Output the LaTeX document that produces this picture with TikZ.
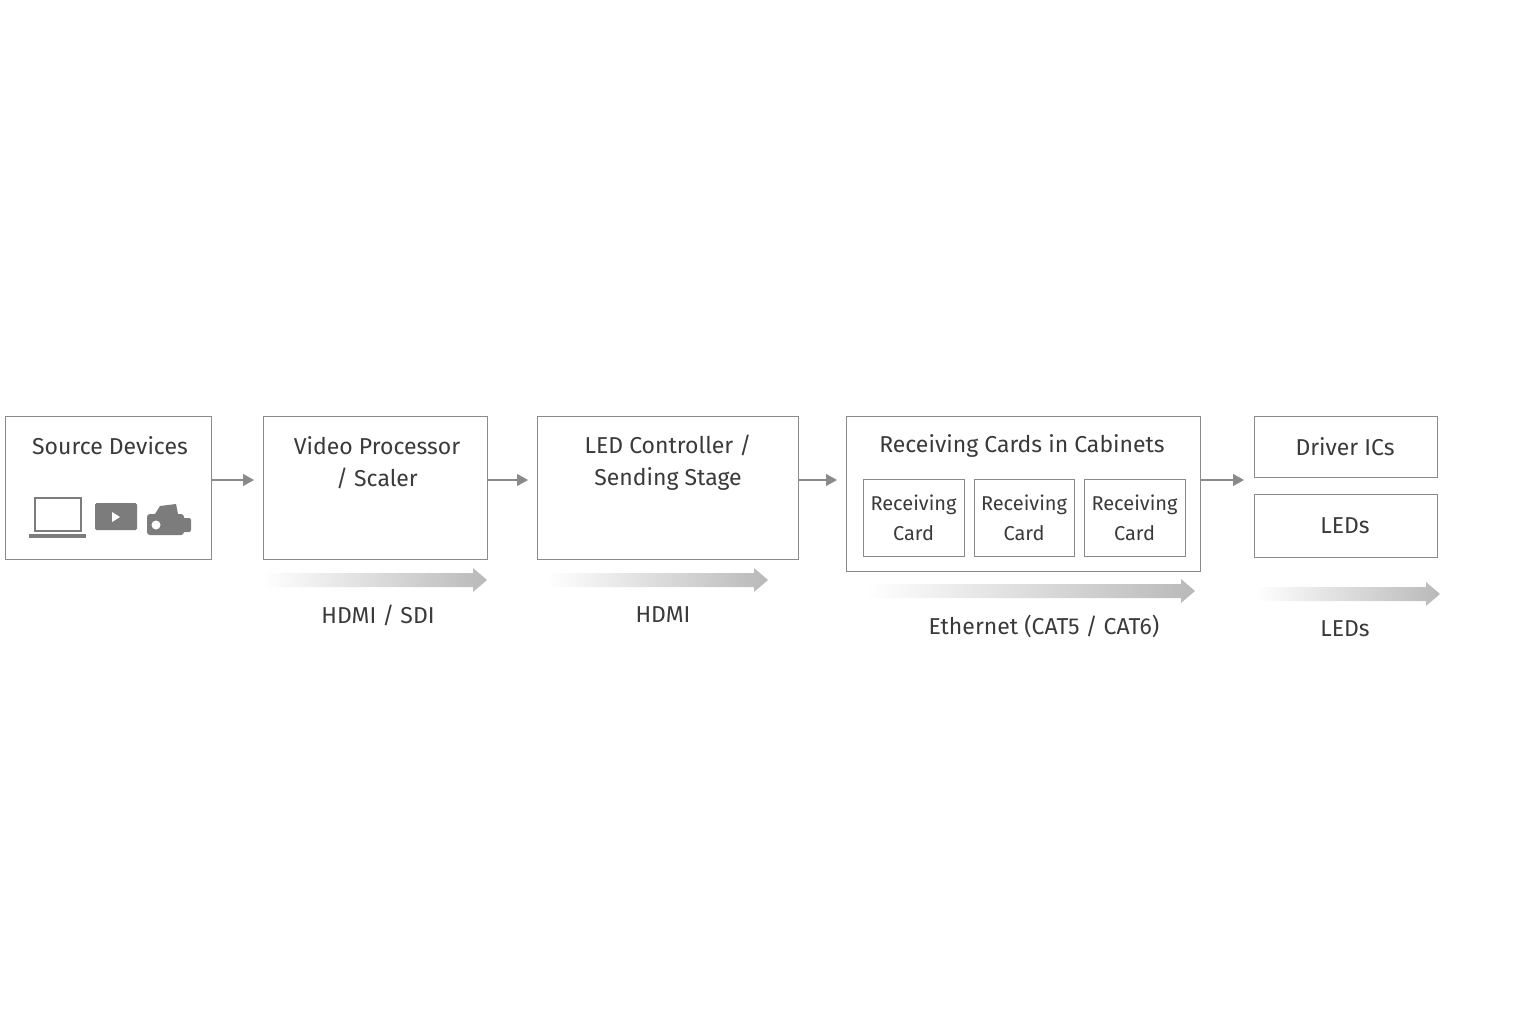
\documentclass[tikz,border=0pt]{standalone}
\usepackage{fontspec}
\setmainfont{Fira Sans}
\usetikzlibrary{arrows.meta}
\definecolor{tx}{HTML}{3A3A3A}
\definecolor{ln}{HTML}{8A8A8A}
\begin{document}
\begin{tikzpicture}[x=1pt,y=-1pt,
  box/.style={draw=ln,line width=1pt,fill=white},
  lbl/.style={text=tx,font=\fontsize{23}{32}\selectfont,align=center},
  sm/.style={text=tx,font=\fontsize{20}{30}\selectfont,align=center},
  conn/.style={draw=ln,line width=1.2pt,-{Triangle[length=11pt,width=12pt]}},
  ico/.style={fill=ln!90!black,draw=none}]
\useasboundingbox (0,0) rectangle (1536,1024);
\newcommand{\garrow}[3]{% x1,x2,y
  \shade[left color=white,right color=gray!55] (#1,#3-7) -- (#2-14,#3-7) -- (#2-14,#3-12) -- (#2,#3) -- (#2-14,#3+12) -- (#2-14,#3+7) -- (#1,#3+7) -- cycle;}
\path[box] (5,416) rectangle (211,559);
\node[lbl] (src) at (110,446) {Source Devices};
\path[box] (263,416) rectangle (487,559);
\node[lbl] (vp) at (377,463) {Video Processor\\/ Scaler};
\path[box] (537,416) rectangle (798,559);
\node[lbl] (lc) at (668,463) {LED Controller /\\Sending Stage};
\path[box] (846,416) rectangle (1200,571);
\node[lbl] (rc) at (1022,446) {Receiving Cards in Cabinets};
\foreach \a/\b/\n in {863/964/c1,974/1074/c2,1084/1185/c3}{
  \path[box] (\a,479) rectangle (\b,556);
  \node[sm] (\n) at ({(\a+\b)/2},518) {Receiving\\Card};}
\path[box] (1254,416) rectangle (1437,477);
\node[lbl] (dr) at (1345,447) {Driver ICs};
\path[box] (1254,494) rectangle (1437,557);
\node[lbl] (le) at (1345,526) {LEDs};
\coordinate (a1) at (211,480); \coordinate (b1) at (254,480);
\coordinate (a2) at (487,480); \coordinate (b2) at (528,480);
\coordinate (a3) at (798,480); \coordinate (b3) at (837,480);
\coordinate (a4) at (1200,480); \coordinate (b4) at (1244,480);
\draw[conn] (a1)--(b1); \draw[conn] (a2)--(b2); \draw[conn] (a3)--(b3); \draw[conn] (a4)--(b4);
\garrow{263}{487}{580}
\garrow{547}{768}{580}
\garrow{866}{1195}{591}
\garrow{1255}{1440}{594}
\node[lbl] (l1) at (378,615) {HDMI / SDI};
\node[lbl] (l2) at (663,615) {HDMI};
\node[lbl] (l3) at (1044,626) {Ethernet (CAT5 / CAT6)};
\node[lbl] (l4) at (1345,629) {LEDs};
\draw[ln!90!black,line width=1.6pt] (35,498) rectangle (81,531);
\fill[ln!90!black] (29,534) rectangle (86,538);
\fill[ico,rounded corners=1.5pt] (95,503) rectangle (137,530);
\fill[white] (112,512) -- (112,522) -- (120,517) -- cycle;
\fill[ico,rounded corners=3pt] (147,514) rectangle (184,535);
\fill[ico] (155,514) -- (160,506) -- (176,504) -- (178,514) -- cycle;
\fill[ico,rounded corners=2pt] (182,518) rectangle (191,532);
\fill[white] (156,525) circle (4.5);
\end{tikzpicture}
\end{document}
